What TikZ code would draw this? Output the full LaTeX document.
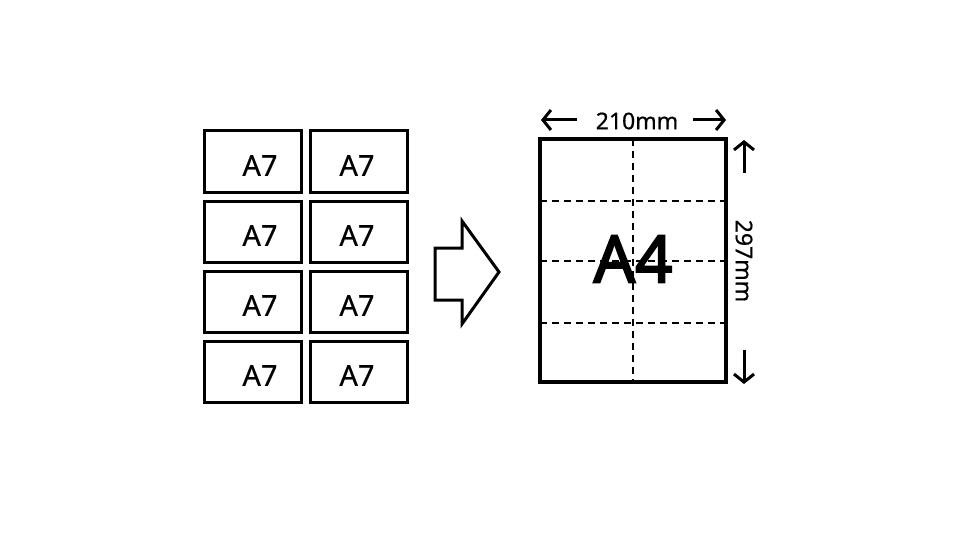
\documentclass[tikz,border=0pt]{standalone}
\usepackage{fontspec}
\setmainfont{Noto Sans}
\newfontfamily\midfont[FakeBold=0.6]{Noto Sans}
\newfontfamily\heavyfont[FakeBold=3]{Noto Sans}
\usetikzlibrary{arrows.meta}
\begin{document}
\begin{tikzpicture}[x=1pt,y=-1pt,
  a7box/.style={draw,line width=3pt,minimum width=97pt,minimum height=61pt,inner sep=0pt},
  a7txt/.style={font=\midfont\fontsize{29}{30}\selectfont},
  dimarrow/.style={line width=3pt,-{Straight Barb[length=8pt,width=20pt,line width=3pt]}},
  cutline/.style={line width=2pt,dash pattern=on 7pt off 5pt}]
\useasboundingbox (0,0) rectangle (960,540);
% A7 grid
\foreach \r/\y in {1/161.5,2/231.5,3/301.5,4/371.5}{
  \node[a7box] (l\r) at (252.5,\y) {};
  \node[a7box] (r\r) at (358.5,\y) {};
  \node[a7txt] (lt\r) at (260,\y+4) {A7};
  \node[a7txt] (rt\r) at (357,\y+4) {A7};
}
% big arrow
\draw[line width=3pt,line join=miter] (435,248) -- (462,248) -- (462,221) -- (499,272) -- (462,324) -- (462,300) -- (435,300) -- cycle;
% A4 sheet
\coordinate (tl) at (540,139);
\coordinate (br) at (726,382);
\draw[cutline,line width=2.6pt] (633,139) -- (633,382);
\foreach \y in {201,261,323}{\draw[cutline] (540,\y) -- (726,\y);}
\draw[line width=4pt] (tl) rectangle (br);
\node[font=\heavyfont\fontsize{65}{65}\selectfont] (a4) at (633,259) {A4};
% dimensions
\node[font=\midfont\fontsize{23}{24}\selectfont] (w) at (637,121) {210mm};
\coordinate (wl) at (541,120);
\coordinate (wr) at (726,120);
\draw[dimarrow] (577,120) -- (wl);
\draw[dimarrow] (693,120) -- (wr);
\node[font=\midfont\fontsize{23}{24}\selectfont,rotate=-90] (h) at (744,261) {297mm};
\coordinate (ht) at (744,140);
\coordinate (hb) at (744,384);
\draw[dimarrow] (744,173) -- (ht);
\draw[dimarrow] (744,350) -- (hb);
\end{tikzpicture}
\end{document}
